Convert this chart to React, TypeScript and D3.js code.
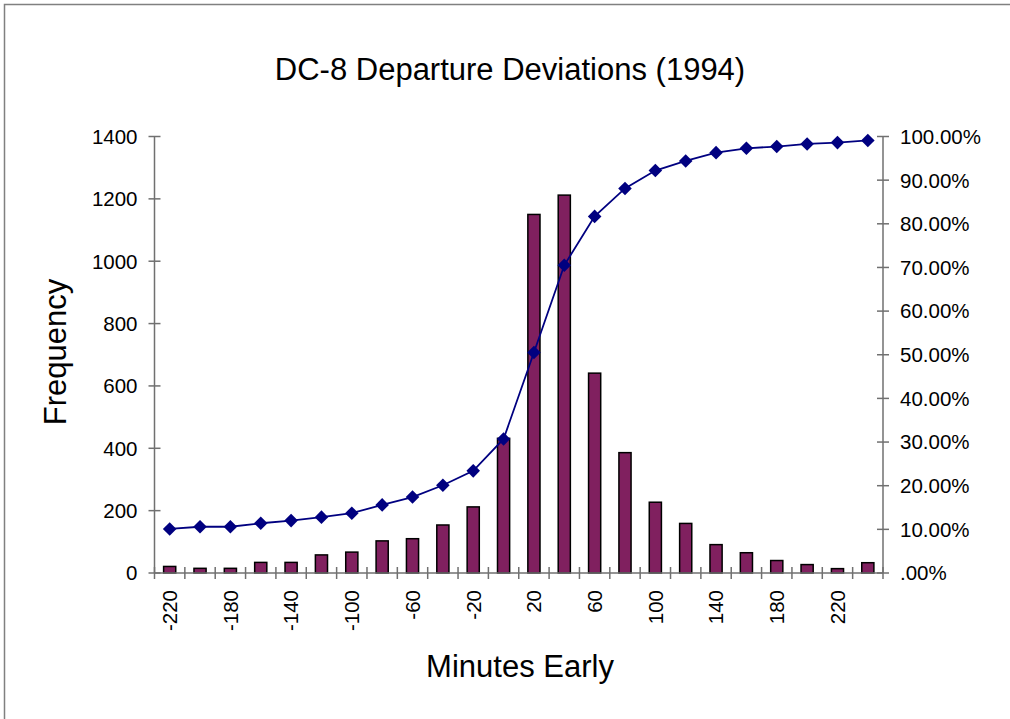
import React, { useEffect, useRef } from "react";
import * as d3 from "d3";

// minutes early bins (category labels)
const minutes = [
  -220, -200, -180, -160, -140, -120, -100, -80, -60, -40, -20, 0,
  20, 40, 60, 80, 100, 120, 140, 160, 180, 200, 220, 240,
];

// frequency per bin (left axis)
const frequency = [
  21, 15, 15, 34, 34, 58, 67, 103, 110, 154, 212, 432,
  1150, 1212, 641, 386, 227, 159, 91, 65, 40, 27, 14, 33,
];

// cumulative percent (right axis)
const cumulative = [
  10.1, 10.6, 10.6, 11.4, 12.0, 12.8, 13.7, 15.6, 17.4, 20.1, 23.4, 30.7,
  50.5, 70.5, 81.7, 88.1, 92.2, 94.4, 96.3, 97.3, 97.7, 98.3, 98.6, 99.1,
];

const freqTicks = [0, 200, 400, 600, 800, 1000, 1200, 1400];
const pctTicks = [0, 10, 20, 30, 40, 50, 60, 70, 80, 90, 100];
const pctTickLabels = [
  ".00%", "10.00%", "20.00%", "30.00%", "40.00%", "50.00%",
  "60.00%", "70.00%", "80.00%", "90.00%", "100.00%",
];
const xTickLabels = [
  "-220", "-180", "-140", "-100", "-60", "-20",
  "20", "60", "100", "140", "180", "220",
];

const FONT = "'Liberation Sans', Arial, Helvetica, sans-serif";

const App = () => {
  const svgRef = useRef<SVGSVGElement>(null);

  useEffect(() => {
    const width = 1010;
    const height = 719;
    const plot = { left: 154.5, right: 883, top: 136.5, bottom: 573 };

    const svg = d3.select(svgRef.current);
    svg.selectAll("*").remove();
    svg.attr("width", width).attr("height", height);

    // outer frame (Excel chart area border)
    svg.append("rect")
      .attr("x", 4.5)
      .attr("y", 4.5)
      .attr("width", 1200)
      .attr("height", 900)
      .attr("fill", "white")
      .attr("stroke", "#808080")
      .attr("stroke-width", 1.5);

    const cats = minutes.map(String);

    const x = d3.scaleBand<string>()
      .domain(cats)
      .range([plot.left, plot.right])
      .paddingInner(0.6)
      .paddingOuter(0.3);

    const step = x.step();

    const yLeft = d3.scaleLinear()
      .domain([0, 1400])
      .range([plot.bottom, plot.top]);

    const yRight = d3.scaleLinear()
      .domain([0, 100])
      .range([plot.bottom, plot.top]);

    const axisColor = "#707070";

    // Bars
    svg.append("g")
      .selectAll("rect")
      .data(frequency)
      .join("rect")
      .attr("x", (d, i) => x(cats[i])!)
      .attr("y", d => yLeft(d))
      .attr("width", x.bandwidth())
      .attr("height", d => plot.bottom - yLeft(d))
      .attr("fill", "#80205f")
      .attr("stroke", "black")
      .attr("stroke-width", 1.5);

    // Left axis
    const left = svg.append("g");
    left.append("line")
      .attr("x1", plot.left).attr("x2", plot.left)
      .attr("y1", plot.top).attr("y2", plot.bottom)
      .attr("stroke", axisColor).attr("stroke-width", 1.5);
    freqTicks.forEach(t => {
      left.append("line")
        .attr("x1", plot.left - 6).attr("x2", plot.left + 6)
        .attr("y1", yLeft(t)).attr("y2", yLeft(t))
        .attr("stroke", axisColor).attr("stroke-width", 1.5);
      left.append("text")
        .attr("x", plot.left - 17)
        .attr("y", yLeft(t))
        .attr("dy", "0.36em")
        .attr("text-anchor", "end")
        .style("font-family", FONT)
        .style("font-size", "20.5px")
        .text(t);
    });

    // Right axis
    const right = svg.append("g");
    right.append("line")
      .attr("x1", plot.right).attr("x2", plot.right)
      .attr("y1", plot.top).attr("y2", plot.bottom)
      .attr("stroke", axisColor).attr("stroke-width", 1.5);
    pctTicks.forEach((t, i) => {
      right.append("line")
        .attr("x1", plot.right - 6).attr("x2", plot.right + 6)
        .attr("y1", yRight(t)).attr("y2", yRight(t))
        .attr("stroke", axisColor).attr("stroke-width", 1.5);
      right.append("text")
        .attr("x", plot.right + 17)
        .attr("y", yRight(t))
        .attr("dy", "0.36em")
        .attr("text-anchor", "start")
        .style("font-family", FONT)
        .style("font-size", "20.5px")
        .text(pctTickLabels[i]);
    });

    // Bottom axis
    const bottom = svg.append("g");
    bottom.append("line")
      .attr("x1", plot.left).attr("x2", plot.right)
      .attr("y1", plot.bottom).attr("y2", plot.bottom)
      .attr("stroke", axisColor).attr("stroke-width", 1.5);
    d3.range(cats.length + 1).forEach(i => {
      const tx = plot.left + i * step;
      bottom.append("line")
        .attr("x1", tx).attr("x2", tx)
        .attr("y1", plot.bottom - 6).attr("y2", plot.bottom + 6)
        .attr("stroke", axisColor).attr("stroke-width", 1.5);
    });
    xTickLabels.forEach(lbl => {
      const cx = x(lbl)! + x.bandwidth() / 2;
      bottom.append("text")
        .attr("transform", `translate(${cx},${plot.bottom + 17}) rotate(-90)`)
        .attr("dy", "0.36em")
        .attr("text-anchor", "end")
        .style("font-family", FONT)
        .style("font-size", "20.5px")
        .text(lbl);
    });

    // Cumulative line
    const line = d3.line<number>()
      .x((d, i) => x(cats[i])! + x.bandwidth() / 2)
      .y(d => yRight(d));

    svg.append("path")
      .datum(cumulative)
      .attr("d", line)
      .attr("fill", "none")
      .attr("stroke", "#000080")
      .attr("stroke-width", 1.8);

    // diamond markers (rotated squares)
    const diamond = d3.symbol().type(d3.symbolSquare).size(92);
    svg.append("g")
      .selectAll("path")
      .data(cumulative)
      .join("path")
      .attr("d", diamond)
      .attr("transform", (d, i) =>
        `translate(${x(cats[i])! + x.bandwidth() / 2},${yRight(d)}) rotate(45)`)
      .attr("fill", "#000080");

    // Titles
    svg.append("text")
      .attr("x", 510)
      .attr("y", 80)
      .attr("text-anchor", "middle")
      .style("font-family", FONT)
      .style("font-size", "31px")
      .text("DC-8 Departure Deviations (1994)");

    svg.append("text")
      .attr("transform", `translate(66,352) rotate(-90)`)
      .attr("text-anchor", "middle")
      .style("font-family", FONT)
      .style("font-size", "31px")
      .text("Frequency");

    svg.append("text")
      .attr("x", 520)
      .attr("y", 677)
      .attr("text-anchor", "middle")
      .style("font-family", FONT)
      .style("font-size", "31px")
      .text("Minutes Early");
  }, []);

  return (
    <div style={{ position: "absolute", left: 0, top: 0, width: 1010, height: 719, overflow: "hidden" }}>
      <svg ref={svgRef} style={{ display: "block" }}></svg>
    </div>
  );
};

export default App;
